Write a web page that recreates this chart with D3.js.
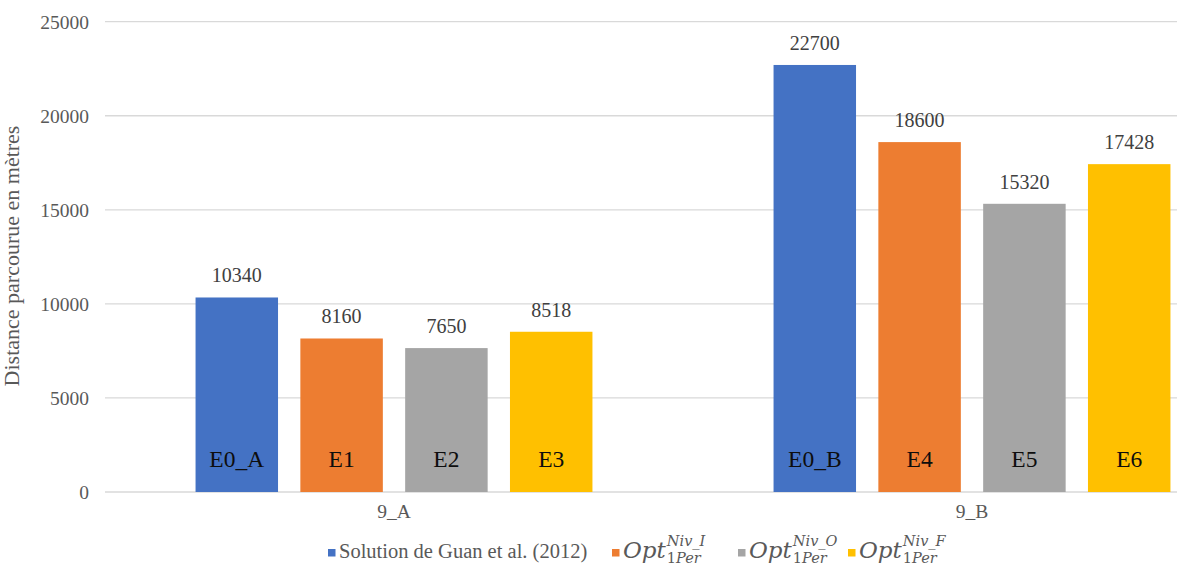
<!DOCTYPE html>
<html>
<head>
<meta charset="utf-8">
<script src="https://cdn.jsdelivr.net/npm/d3@7"></script>
<style>
  html, body { margin: 0; padding: 0; background: #fff; }
  svg { display: block; }
</style>
</head>
<body>
<svg id="chart" width="1177" height="570"></svg>
<script>
// Distance travelled per scenario (metres)
const categories = ["9_A", "9_B"];
const guan   = [10340, 22700];
const optNivI = [8160, 18600];
const optNivO = [7650, 15320];
const optNivF = [8518, 17428];
const barTags = [["E0_A", "E1", "E2", "E3"], ["E0_B", "E4", "E5", "E6"]];
const yTicks = [0, 5000, 10000, 15000, 20000, 25000];

const seriesKeys = ["guan", "nivI", "nivO", "nivF"];
const seriesColors = ["#4472C4", "#ED7D31", "#A5A5A5", "#FFC000"];
const legendSup = [null, "Niv_I", "Niv_O", "Niv_F"];

const seriesValues = { guan, nivI: optNivI, nivO: optNivO, nivF: optNivF };

const rows = [];
categories.forEach((c, ci) => {
  seriesKeys.forEach((k, si) => {
    rows.push({ cat: c, key: k, value: seriesValues[k][ci], tag: barTags[ci][si], color: seriesColors[si] });
  });
});

const svg = d3.select("#chart");

const x0 = d3.scaleBand().domain(categories).range([105, 1261]).paddingInner(0).paddingOuter(0);
const x1 = d3.scaleBand().domain(seriesKeys).range([0, x0.bandwidth()]).paddingInner(0.213).paddingOuter(0.864);
const y = d3.scaleLinear().domain([0, 25000]).range([492, 21.7]);

const serif = "Liberation Serif";

// horizontal gridlines
svg.append("g")
  .selectAll("line")
  .data(yTicks)
  .join("line")
  .attr("x1", x0.range()[0])
  .attr("x2", x0.range()[1])
  .attr("y1", d => y(d))
  .attr("y2", d => y(d))
  .attr("stroke", "#D9D9D9")
  .attr("stroke-width", 1.3);

// y tick labels
const yAxis = d3.axisLeft(y).tickValues(yTicks).tickSize(0).tickPadding(0).tickFormat(d3.format("d"));
const gy = svg.append("g").attr("transform", "translate(89,0)").call(yAxis);
gy.select(".domain").remove();
gy.selectAll("text")
  .attr("font-family", serif)
  .attr("font-size", 19.5)
  .attr("fill", "#595959")
  .attr("dy", "0.34em");

// bars
const groups = svg.append("g")
  .selectAll("g")
  .data(rows)
  .join("g")
  .attr("transform", d => `translate(${x0(d.cat) + x1(d.key)},0)`);

groups.append("rect")
  .attr("x", 0)
  .attr("width", x1.bandwidth())
  .attr("y", d => y(d.value))
  .attr("height", d => y(0) - y(d.value))
  .attr("fill", d => d.color);

// value labels above bars
groups.append("text")
  .attr("x", x1.bandwidth() / 2)
  .attr("y", d => y(d.value) - 15)
  .attr("text-anchor", "middle")
  .attr("font-family", serif)
  .attr("font-size", 20)
  .attr("fill", "#404040")
  .text(d => d.value);

// scenario tags inside bars
groups.append("text")
  .attr("x", x1.bandwidth() / 2)
  .attr("y", y(0) - 25.5)
  .attr("text-anchor", "middle")
  .attr("font-family", serif)
  .attr("font-size", 23.5)
  .attr("fill", "#0D0D0D")
  .text(d => d.tag);

// category axis labels
svg.append("g")
  .selectAll("text")
  .data(categories)
  .join("text")
  .attr("x", d => x0(d) + x0.bandwidth() / 2)
  .attr("y", 518)
  .attr("text-anchor", "middle")
  .attr("font-family", serif)
  .attr("font-size", 19.5)
  .attr("fill", "#595959")
  .text(d => d);

// y axis title
svg.append("text")
  .attr("transform", "translate(19,256) rotate(-90)")
  .attr("text-anchor", "middle")
  .attr("font-family", serif)
  .attr("font-size", 22)
  .attr("fill", "#595959")
  .text("Distance parcourue en mètres");

// legend: one entry per series, each starting at its own slot
const legendX = [328, 612, 738, 848];
const legend = svg.append("g");
const legBase = 558;
const math = "DejaVu Serif";
seriesKeys.forEach((k, i) => {
  const lx = legendX[i];
  const item = legend.append("g");
  item.append("rect")
    .attr("x", lx).attr("y", 549).attr("width", 7.5).attr("height", 7.5)
    .attr("fill", seriesColors[i]);
  const tx = lx + 11;
  if (i === 0) {
    item.append("text")
      .attr("x", tx).attr("y", legBase)
      .attr("font-family", serif).attr("font-size", 20.5).attr("fill", "#595959")
      .text("Solution de Guan et al. (2012)");
  } else {
    const t = item.append("text")
      .attr("x", tx).attr("y", legBase)
      .attr("font-family", math).attr("font-style", "italic")
      .attr("font-size", 23).attr("fill", "#595959")
      .text("Opt");
    const sx = tx + t.node().getComputedTextLength() + 1;
    item.append("text")
      .attr("x", sx).attr("y", legBase - 12)
      .attr("font-family", math).attr("font-style", "italic")
      .attr("font-size", 14.5).attr("fill", "#595959")
      .text(legendSup[i]);
    const sub = item.append("text")
      .attr("x", sx).attr("y", legBase + 5)
      .attr("font-family", math)
      .attr("font-size", 14.5).attr("fill", "#595959");
    sub.append("tspan").text("1");
    sub.append("tspan").attr("font-style", "italic").text("Per");
  }
});
</script>
</body>
</html>
